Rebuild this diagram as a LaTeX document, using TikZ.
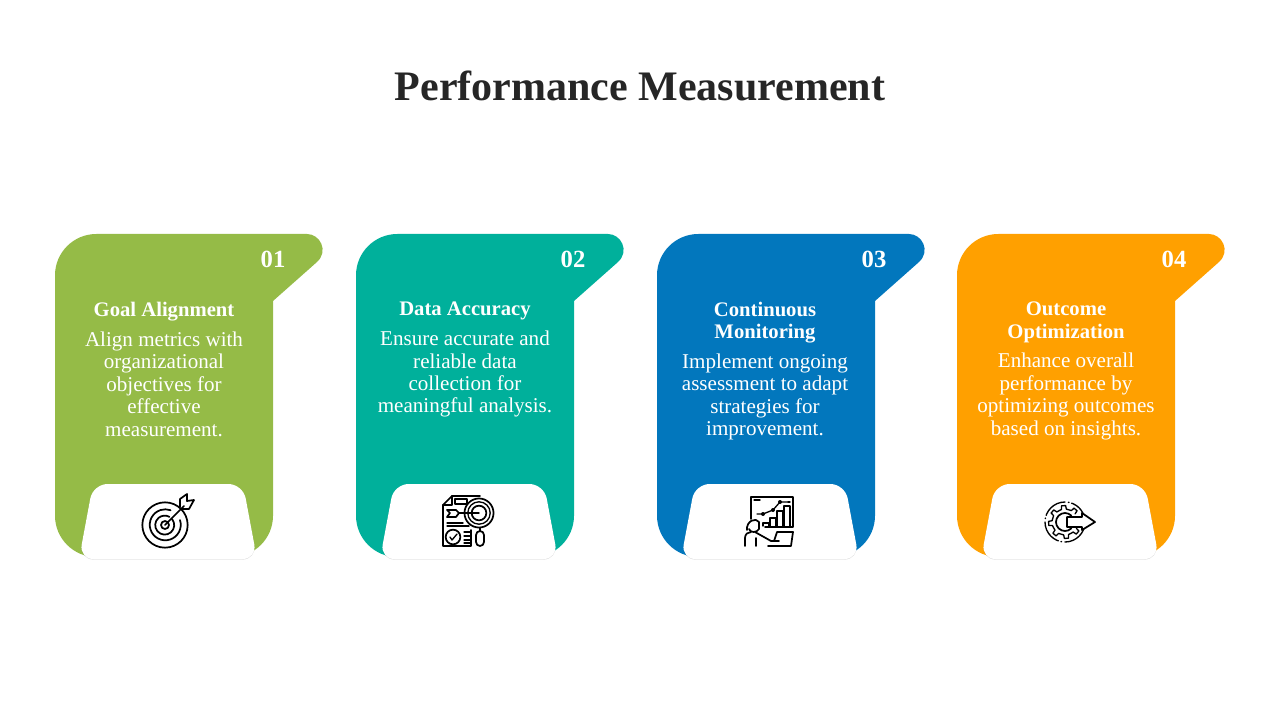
\documentclass[tikz,border=0pt]{standalone}
\usepackage{fontspec}
\setmainfont{Liberation Serif}
\usetikzlibrary{positioning,shadows}
\definecolor{cardgreen}{HTML}{95BB47}
\definecolor{cardteal}{HTML}{00B09B}
\definecolor{cardblue}{HTML}{0277BD}
\definecolor{cardorange}{HTML}{FFA000}
\definecolor{headcolor}{HTML}{262626}
\tikzset{
    headtext/.style={font=\fontsize{31.5}{38}\selectfont\bfseries,text=headcolor,inner sep=0pt},
    numtext/.style={font=\fontsize{18.5}{22}\selectfont\bfseries,text=white,inner sep=0pt},
    titletext/.style={font=\fontsize{15.5}{16.6}\selectfont\bfseries,text=white,align=center,inner sep=0pt},
    bodytext/.style={font=\fontsize{15.8}{16.8}\selectfont,text=white,align=center,inner sep=0pt},
    iconline/.style={line width=1.3pt,draw=black,line cap=round,line join=round},
    iconthin/.style={line width=1pt,draw=black,line cap=round,line join=round},
    iconbox/.style={fill=white,drop shadow={shadow xshift=0pt,shadow yshift=-0.5pt,opacity=0.12,fill=black}}
}
\newcommand{\perfcard}[2]{%
    \fill[#2] (#1+55,400) [rounded corners=31pt] -- (#1+55,234) [sharp corners] -- (#1+307,234)
        .. controls (#1+320,234) and (#1+329,251) .. (#1+317,262) -- (#1+273,301) [rounded corners=31pt] -- (#1+273,557) -- (#1+55,557) [sharp corners] -- cycle;
    \path[iconbox,rounded corners=11pt] (#1+93,484) -- (#1+79,559) -- (#1+257,559) -- (#1+243,484) -- cycle;
}
\begin{document}
\begin{tikzpicture}[x=0.75pt,y=-0.75pt]
    \useasboundingbox (0,0) rectangle (1280,720);
    \node[headtext] (head) at (640,86) {Performance Measurement};

    \perfcard{0}{cardgreen}
    \perfcard{301}{cardteal}
    \perfcard{602}{cardblue}
    \perfcard{902}{cardorange}

    \node[numtext] (num1) at (273,259) {01};
    \node[numtext] (num2) at (573,259) {02};
    \node[numtext] (num3) at (874,259) {03};
    \node[numtext] (num4) at (1174,259) {04};

    \node[titletext,anchor=north] (title1) at (164,302) {Goal Alignment};
    \node[bodytext,below=11.2pt of title1.base] (body1) {Align metrics with\\organizational\\objectives for\\effective\\measurement.};
    \node[titletext,anchor=north] (title2) at (465,302) {Data Accuracy};
    \node[bodytext,below=11.2pt of title2.base] (body2) {Ensure accurate and\\reliable data\\collection for\\meaningful analysis.};
    \node[titletext,anchor=north] (title3) at (765,302) {Continuous\\Monitoring};
    \node[bodytext,below=11.2pt of title3.base] (body3) {Implement ongoing\\assessment to adapt\\strategies for\\improvement.};
    \node[titletext,anchor=north] (title4) at (1066,302) {Outcome\\Optimization};
    \node[bodytext,below=11.2pt of title4.base] (body4) {Enhance overall\\performance by\\optimizing outcomes\\based on insights.};

    % target
    \draw[iconline] (165,525) circle (17pt);
    \draw[iconline] (180,520) arc (-18:290:15.5);
    \draw[iconline] (172,519) arc (-40:300:9.5);
    \draw[iconline] (165,525) circle (3pt);
    \draw[iconline] (165,525) -- (184,506);
    \draw[iconline] (180,507) -- (180,499) -- (187,494) -- (187,501) -- (194,500) -- (189,509) -- (181,509);
    % document and magnifier
    \draw[iconline] (480,496) -- (452,496) -- (443,505) -- (443,546) -- (471,546) -- (471,530);
    \draw[iconline] (452,496) -- (452,505) -- (443,505);
    \draw[iconline] (455,499) rectangle (467,504);
    \draw[iconline,fill=white] (479,513) circle (10.9pt);
    \draw[iconthin] (479,513) circle (8.4pt);
    \draw[iconline] (479,513) circle (5.5pt);
    \draw[iconline] (447,510) -- (456,510) -- (459,513) -- (456,517) -- (447,517) -- (450,513) -- cycle;
    \draw[iconthin] (459,513) -- (479,513);
    \draw[iconthin] (447,523) -- (463,523) (447,526) -- (469,526);
    \draw[iconline] (453,537) circle (5.5pt);
    \draw[iconthin] (450,537) -- (452,540) -- (457,534);
    \draw[iconthin] (464,532) -- (471,532) (464,536) -- (471,536) (464,540) -- (471,540) (464,543) -- (471,543);
    \draw[iconline] (480,528) -- (480,531);
    \draw[iconline,rounded corners=3pt] (476,531) rectangle (484,546);
    % board and presenter
    \draw[iconline] (751,519) -- (751,497) -- (793,497) -- (793,527) -- (765,527);
    \draw[iconthin] (754,500) -- (760,500) (790,502) -- (788,502);
    \foreach \barx/\bary in {763/523,770/518,777/511,784/506}
        \draw[iconthin] (\barx,526) -- (\barx,\bary) -- (\barx+6,\bary) -- (\barx+6,526);
    \draw[iconthin] (757,514) -- (763,514) -- (773,510) -- (780,502) -- (789,502);
    \fill (763,514) circle (1.5pt) (773,510) circle (1.5pt) (780,502) circle (1.5pt);
    \draw[iconline] (747,530) .. controls (746,521) and (756,517) .. (759,522) -- (759,529) .. controls (757,533) and (750,533) .. (749,529);
    \draw[iconline] (745,546) -- (745,538) .. controls (745,534) and (748,532) .. (751,532) (755,532) -- (771,541) -- (779,541);
    \draw[iconline] (756,546) -- (756,538);
    \draw[iconline] (768,546) -- (791,546) -- (793,532) -- (777,532) -- (774,541);
    % gear and arrow
    \begin{scope}[shift={(1065,522)}]
        \draw[iconthin,dash pattern=on 18.5pt off 2pt on 0.5pt off 2.5pt] (0,0) circle (15pt);
        \foreach \ang in {40,85,130,175,220,265,310}
            \draw[iconthin] (\ang-11:13) -- (\ang-7:16.5) -- (\ang+7:16.5) -- (\ang+11:13);
        \foreach \ang in {62,107,152,197,242,287}
            \draw[iconthin] (\ang-11:13) -- (\ang+11:13);
        \draw[iconline] (45:9) arc (45:315:9);
    \end{scope}
    \draw[iconline,fill=white] (1067,517) -- (1082,517) -- (1082,513) -- (1095,522) -- (1082,530) -- (1082,527) -- (1067,527) -- cycle;
\end{tikzpicture}
\end{document}
